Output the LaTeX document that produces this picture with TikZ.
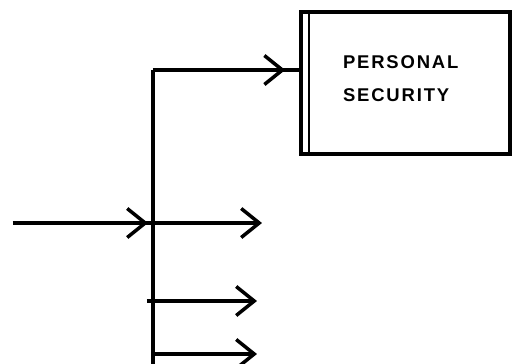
\documentclass[tikz,border=0pt]{standalone}
\usepackage{fontspec}
\newfontfamily\labelfont[LetterSpace=10,BoldFont={Liberation Sans Bold}]{Liberation Sans}
\usetikzlibrary{arrows.meta,positioning,calc}

\begin{document}
\begin{tikzpicture}[
  x=0.02cm, y=-0.02cm,
  block/.style={rectangle,draw=black,line width=2.1pt,fill=white,
                minimum width=4.18cm,minimum height=2.84cm,
                inner xsep=0pt,text width=2.5cm,align=left,text depth=0.85cm,
                font=\labelfont\bfseries\fontsize{10.5}{19}\selectfont},
  line/.style={line width=2pt,black},
  arrow/.style={line width=2pt,black,-{Straight Barb[length=0.36cm,width=0.58cm,line width=2pt]}},
  inner/.style={line width=1.4pt,black}
]
\useasboundingbox (0,0) rectangle (512,363);

% ===== BOX =====
\node[block] (security) at (405.5,83) {PERSONAL\\SECURITY};
\draw[inner] ($(security.north west)+(10,0)$) -- ($(security.south west)+(10,0)$);

% ===== TRUNK =====
\coordinate (top) at (153,70);
\coordinate (bottom) at (153,370);
\coordinate (junc) at (153,223);
\coordinate (in) at (13,223);
\coordinate (entry) at (security.west |- top);
\draw[line] (top) -- (bottom);

% input into the trunk
\draw[line] (in) -- (junc);
\draw[arrow,shorten >=0.1cm] (in) -- (junc);

% branch up to the box
\draw[line] (top) -- (entry);
\draw[arrow,shorten >=0.28cm] (top) -- (entry);

% ===== BRANCHES =====
\coordinate (outa) at (262,223);
\coordinate (outb) at (257,301);
\coordinate (outc) at (257,354);
\draw[arrow] (junc) -- (outa);
\draw[arrow] (junc |- outb) ++(-6,0) -- (outb);
\draw[arrow] (junc |- outc) -- (outc);

\end{tikzpicture}
\end{document}
